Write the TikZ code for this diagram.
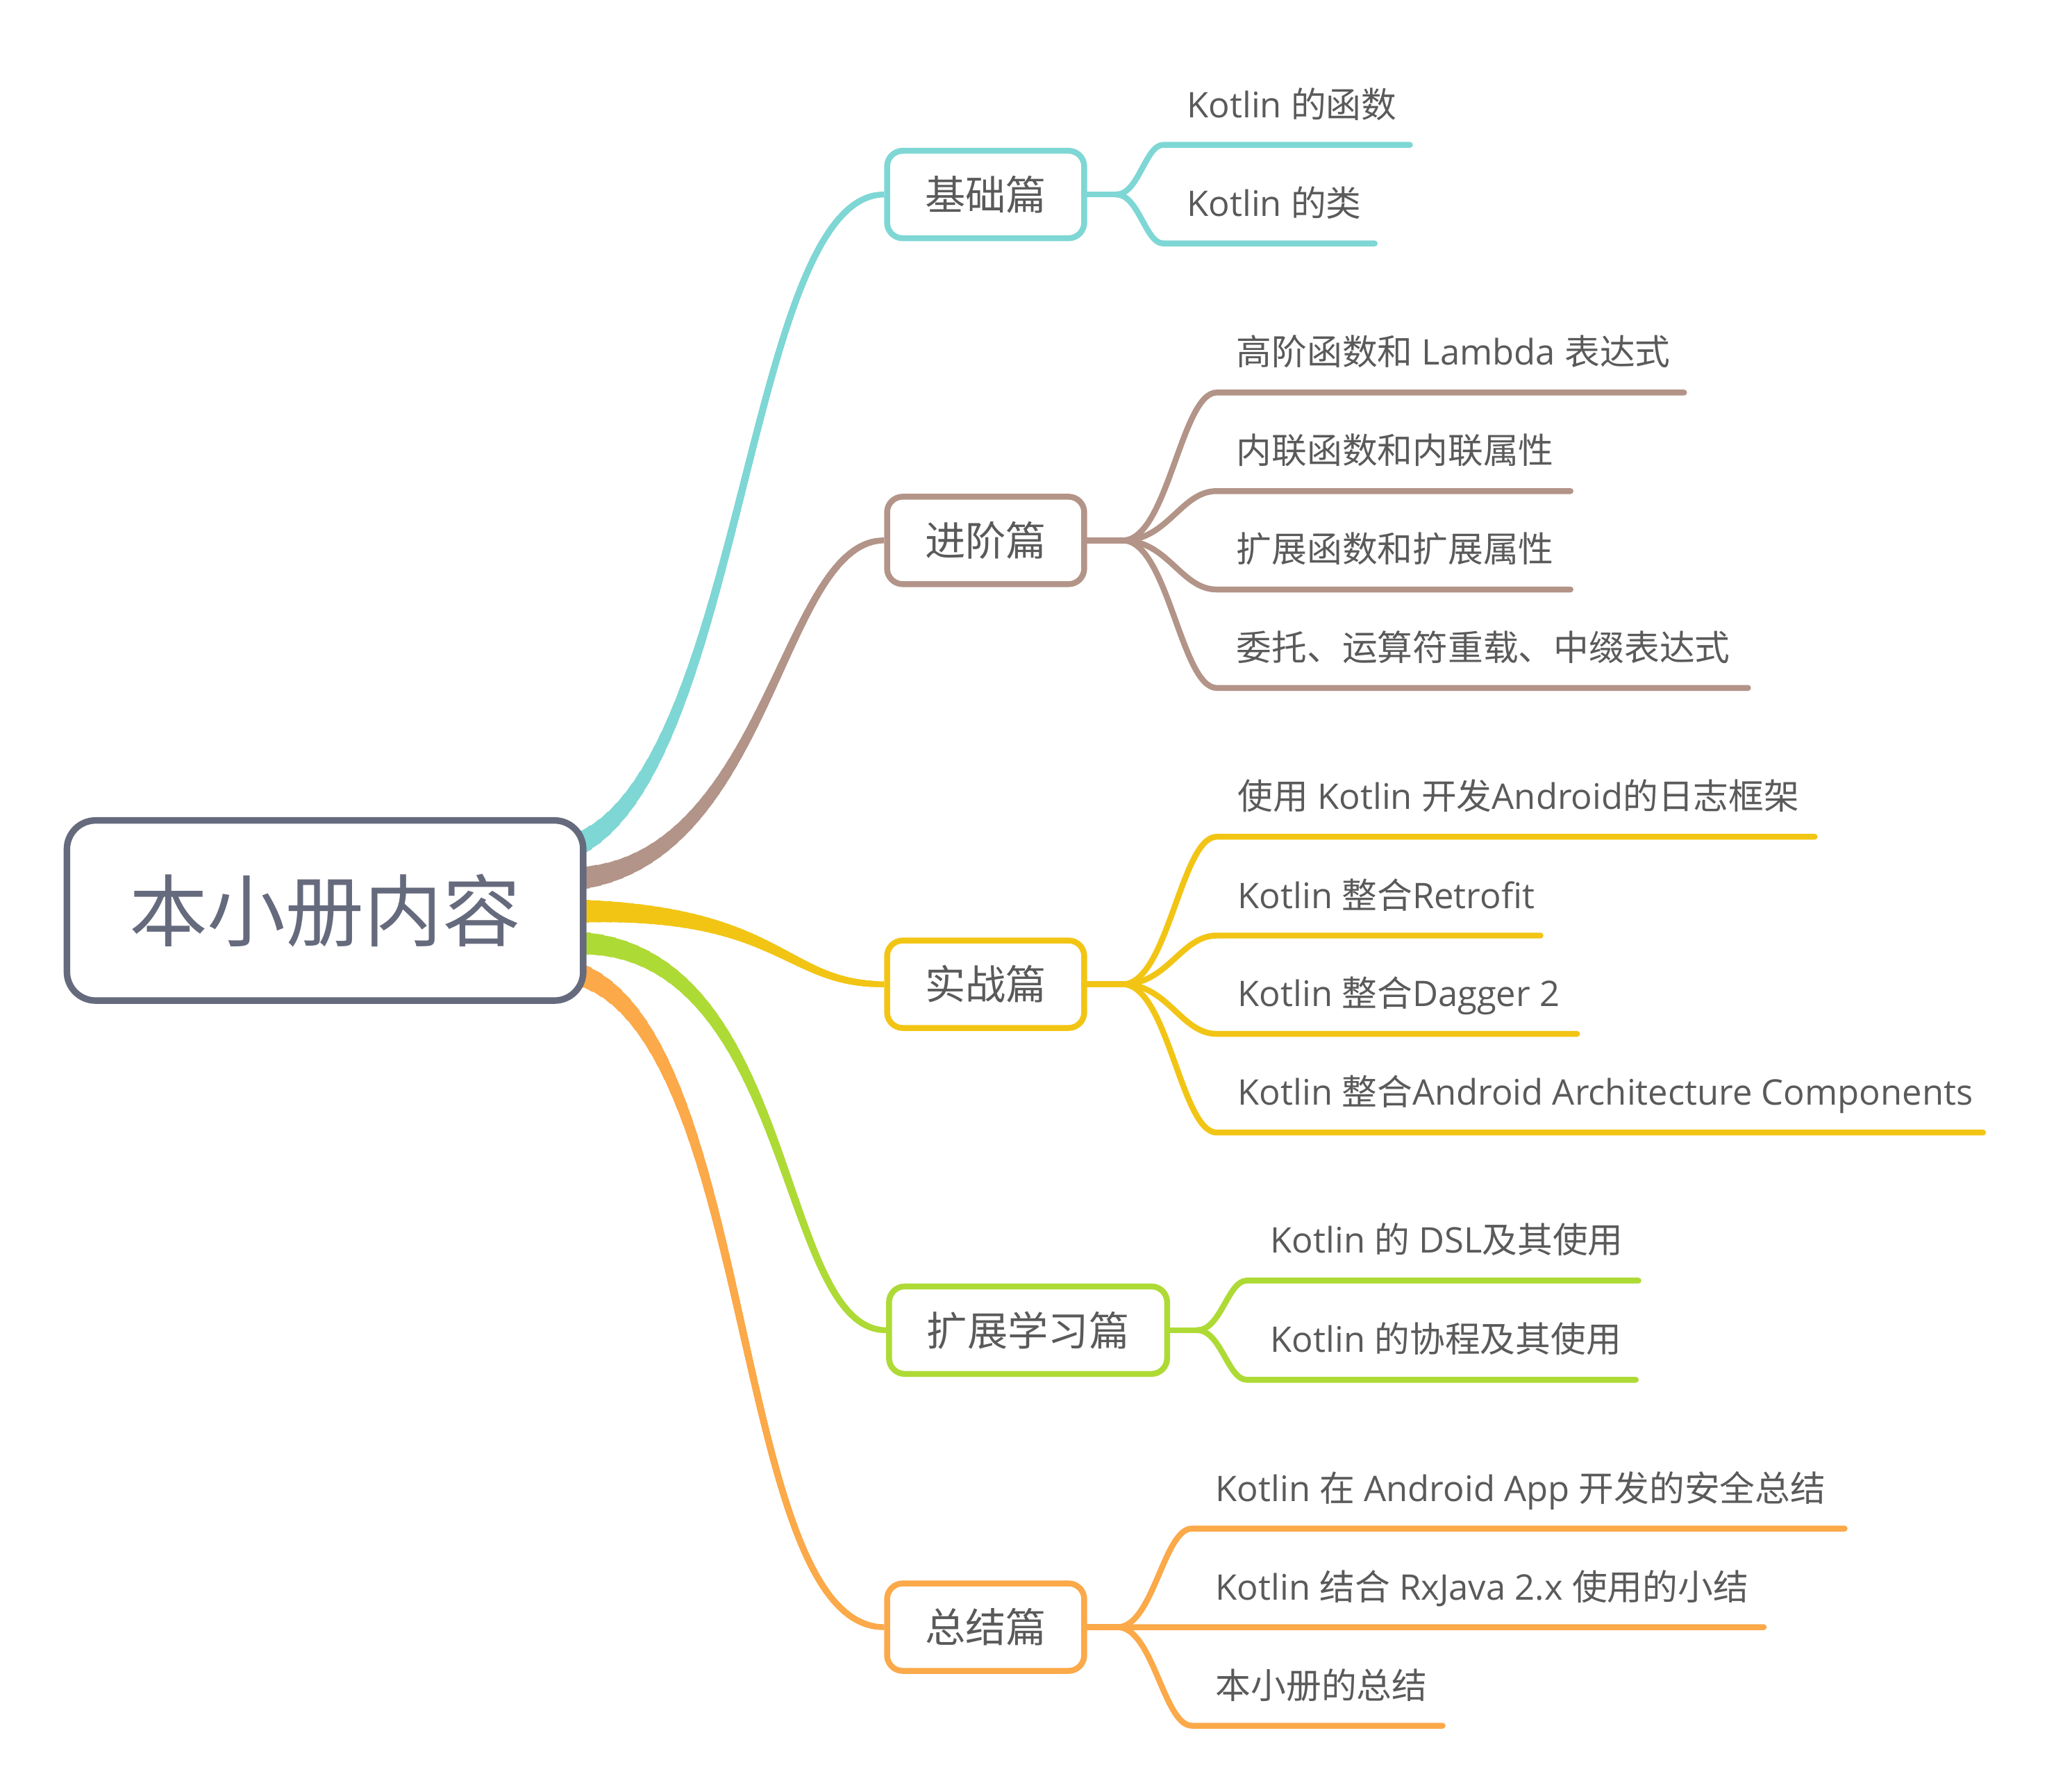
\documentclass[tikz,border=0pt]{standalone}
\usepackage{fontspec}
\setmainfont{Open Sans}
\newfontfamily\cjkf{Noto Sans CJK SC}
\newcommand\zh[1]{{\cjkf #1}}
\usetikzlibrary{calc}
\pgfdeclarelayer{bg}
\pgfsetlayers{bg,main}
\definecolor{rootc}{HTML}{656A7D}
\definecolor{cyanc}{HTML}{7ED7D4}
\definecolor{brownc}{HTML}{B39488}
\definecolor{yellowc}{HTML}{F2C515}
\definecolor{greenc}{HTML}{AEDA36}
\definecolor{orangec}{HTML}{FBA949}
\definecolor{txt}{HTML}{5A5A5A}
\tikzset{
  rootbox/.style={draw=rootc, line width=5pt, rounded corners=22pt, fill=white,
    minimum width=395.5pt, minimum height=138pt, inner sep=0pt, text=rootc,
    font={\cjkf\fontsize{60}{70}\selectfont}},
  childbox/.style={line width=4.5pt, rounded corners=12pt, fill=white,
    minimum width=151pt, minimum height=67pt, inner sep=0pt, text=txt,
    font={\cjkf\fontsize{31}{36}\selectfont}},
  leafline/.style={line width=4.5pt, line cap=round, line join=round},
  leaftext/.style={inner sep=0pt, text=txt, font={\fontsize{27}{32}\selectfont}},
}
% tapered main connector: start, control 1, control 2, end, colour, decay
\newcommand\maincurve[6]{%
  \foreach \k in {50,49,...,1}{%
    \pgfmathsetmacro\tpar{\k/50}%
    \pgfmathsetmacro\wpar{4.5+13.5*(exp(-#6*\tpar)-exp(-#6))/(1-exp(-#6))}%
    \coordinate (qa) at ($(#1)!\tpar!(#2)$);
    \coordinate (qm) at ($(#2)!\tpar!(#3)$);
    \coordinate (qn) at ($(#3)!\tpar!(#4)$);
    \coordinate (qb) at ($(qa)!\tpar!(qm)$);
    \coordinate (qc) at ($(qm)!\tpar!(qn)$);
    \coordinate (qe) at ($(qb)!\tpar!(qc)$);
    \draw[line width=\wpar pt, draw=#5] (#1) .. controls (qa) and (qb) .. (qe);
  }}
% leaf: colour, fork, name, corner x, y, end x, text x, text
\newcommand\leaf[8]{%
  \coordinate (#3c) at (#4,#5);
  \coordinate (#3e) at (#6,#5);
  \draw[leafline, draw=#1] (#2) .. controls ($(#2)!0.48!(#3c |- #2)$) and ($(#3c)!0.38!(#2 |- #3c)$) .. (#3c) -- (#3e);
  \node[leaftext, anchor=base west] (#3) at (#7,#5-21) {#8};
}
\begin{document}
\begin{tikzpicture}[x=1pt,y=-1pt]
\useasboundingbox (0,0) rectangle (1568,1372.3);

% nodes
\node[rootbox] (root) at (249,697.5) {本小册内容};
\node[childbox, draw=cyanc] (jc) at (755,149) {基础篇};
\node[childbox, draw=brownc] (jj) at (755,414) {进阶篇};
\node[childbox, draw=yellowc] (js) at (755,754) {实战篇};
\node[childbox, draw=greenc, minimum width=213pt] (jx) at (787.5,1019) {扩展学习篇};
\node[childbox, draw=orangec] (jz) at (755,1246.5) {总结篇};

% main connectors
\begin{pgfonlayer}{bg}
\fill[white] (0,0) rectangle (1568,1372.3);
\coordinate (r1) at (442,647);  \coordinate (r1a) at (570,590); \coordinate (r1b) at (572,149);
\coordinate (r2) at (442,673);  \coordinate (r2a) at (590,660); \coordinate (r2b) at (598,414);
\coordinate (r3) at (442,698);  \coordinate (r3a) at (600,698); \coordinate (r3b) at (600,754);
\coordinate (r4) at (442,722.5);\coordinate (r4a) at (610,725); \coordinate (r4b) at (595,1019);
\coordinate (r5) at (442,746);  \coordinate (r5a) at (580,790); \coordinate (r5b) at (560,1246.5);
\maincurve{r1}{r1a}{r1b}{jc.west}{cyanc}{5}
\maincurve{r2}{r2a}{r2b}{jj.west}{brownc}{3.2}
\maincurve{r3}{r3a}{r3b}{js.west}{yellowc}{2.1}
\maincurve{r4}{r4a}{r4b}{jx.west}{greenc}{3.4}
\maincurve{r5}{r5a}{r5b}{jz.west}{orangec}{4.7}
\end{pgfonlayer}

% forks (stems)
\coordinate (jcf) at (855,149);
\coordinate (jjf) at (860,414);
\coordinate (jsf) at (860,754);
\coordinate (jxf) at (917,1019);
\coordinate (jzf) at (856,1246.5);
\draw[leafline, draw=cyanc] (jc.east) -- (jcf);
\draw[leafline, draw=brownc] (jj.east) -- (jjf);
\draw[leafline, draw=yellowc] (js.east) -- (jsf);
\draw[leafline, draw=greenc] (jx.east) -- (jxf);
\draw[leafline, draw=orangec] (jz.east) -- (jzf);

% leaves
\leaf{cyanc}{jcf}{jca}{891}{111}{1080}{909}{Kotlin \zh{的函数}}
\leaf{cyanc}{jcf}{jcb}{891}{186.5}{1053}{909}{Kotlin \zh{的类}}

\leaf{brownc}{jjf}{jja}{932}{300.7}{1290}{947}{\zh{高阶函数和} Lambda \zh{表达式}}
\leaf{brownc}{jjf}{jjb}{932}{376.2}{1203}{947}{\zh{内联函数和内联属性}}
\leaf{brownc}{jjf}{jjc}{932}{451.6}{1203}{947}{\zh{扩展函数和扩展属性}}
\leaf{brownc}{jjf}{jjd}{932}{527}{1339}{947}{\zh{委托、运算符重载、中缀表达式}}

\leaf{yellowc}{jsf}{jsa}{932}{641}{1390}{948}{\zh{使用} Kotlin \zh{开发}Android\zh{的日志框架}}
\leaf{yellowc}{jsf}{jsb}{932}{716.7}{1180}{948}{Kotlin \zh{整合}Retrofit}
\leaf{yellowc}{jsf}{jsc}{932}{792}{1208}{948}{Kotlin \zh{整合}Dagger 2}
\leaf{yellowc}{jsf}{jsd}{932}{867.6}{1519}{948}{Kotlin \zh{整合}Android Architecture Components}

\leaf{greenc}{jxf}{jxa}{955}{981}{1255}{973}{Kotlin \zh{的} DSL\zh{及其使用}}
\leaf{greenc}{jxf}{jxb}{955}{1057}{1253}{973}{Kotlin \zh{的协程及其使用}}

\leaf{orangec}{jzf}{jza}{913}{1171}{1413}{931}{Kotlin \zh{在} Android App \zh{开发的安全总结}}
\leaf{orangec}{jzf}{jzb}{913}{1246.5}{1351}{931}{Kotlin \zh{结合} RxJava 2.x \zh{使用的小结}}
\leaf{orangec}{jzf}{jzc}{913}{1322}{1105}{931}{\zh{本小册的总结}}
\end{tikzpicture}
\end{document}
